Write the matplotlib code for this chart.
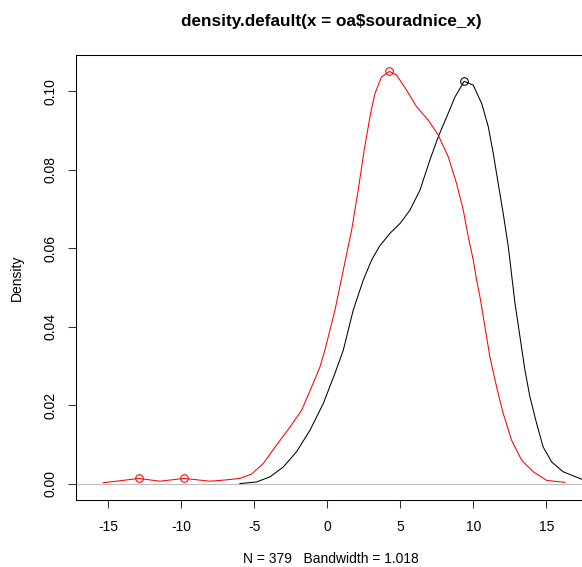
import matplotlib
matplotlib.use('Agg')
import matplotlib.pyplot as plt

# hustota - cerna krivka (souradnice_x)
x_cerna = [-5.98, -4.84, -3.92, -3.01, -2.1, -1.18, -0.27, 0.53, 1.1, 1.78, 2.47, 3.04,
           3.56, 4.29, 4.98, 5.66, 6.35, 7.03, 7.6, 8.18, 8.75, 9.38, 10.0, 10.58,
           11.03, 11.37, 11.71, 12.05, 12.4, 12.86, 13.2, 13.54, 13.88, 14.34, 14.79,
           15.37, 16.16, 17.42, 18.5]
y_cerna = [0.0, 0.0004, 0.0017, 0.0042, 0.0081, 0.0136, 0.0204, 0.0281, 0.034, 0.0442,
           0.0519, 0.057, 0.0604, 0.0638, 0.0663, 0.0697, 0.0748, 0.0825, 0.0884,
           0.0935, 0.0986, 0.1026, 0.1016, 0.0969, 0.091, 0.0842, 0.0765, 0.0689, 0.0604,
           0.0459, 0.0374, 0.0289, 0.0221, 0.0153, 0.0093, 0.0055, 0.003, 0.0011, 0.0005]

# hustota - cervena krivka
x_cervena = [-15.34, -14.2, -12.9, -11.46, -9.8, -8.03, -7.0, -5.98, -5.18, -4.38, -3.47,
             -2.55, -1.75, -1.07, -0.5, -0.16, 0.53, 1.1, 1.67, 2.12, 2.53, 2.97, 3.27,
             3.72, 4.25, 4.75, 5.44, 6.12, 6.92, 7.6, 8.29, 8.86, 9.32, 9.66, 10.0, 10.23,
             10.46, 10.8, 11.14, 11.6, 12.05, 12.63, 13.32, 14.11, 15.03, 16.28]
y_cervena = [0.0002, 0.0007, 0.0013, 0.0006, 0.0013, 0.0006, 0.0009, 0.0013, 0.0024,
             0.0051, 0.0098, 0.0144, 0.0187, 0.0246, 0.0297, 0.034, 0.0442, 0.0544,
             0.0646, 0.0748, 0.085, 0.0944, 0.0995, 0.1037, 0.1051, 0.1042, 0.1003,
             0.0961, 0.0927, 0.0889, 0.0833, 0.0765, 0.0697, 0.0629, 0.057, 0.0519,
             0.0476, 0.04, 0.0323, 0.0246, 0.0179, 0.011, 0.0059, 0.003, 0.0008, 0.0003]

# vrcholy (body)
vrchol_cerna_x = [9.38]
vrchol_cerna_y = [0.1026]
vrchol_cervena_x = [-12.9, -9.8, 4.25]
vrchol_cervena_y = [0.0013, 0.0013, 0.1051]

x_ticks = [-15, -10, -5, 0, 5, 10, 15]
y_ticks = [0.00, 0.02, 0.04, 0.06, 0.08, 0.10]

plt.rcParams['font.family'] = ['Liberation Sans', 'DejaVu Sans']

fig = plt.figure(figsize=(5.82, 5.67), dpi=100)
ax = fig.add_axes([76 / 582, 67 / 567, 510 / 582, 445 / 567])

ax.axhline(0, color='#bebebe', lw=0.8)
ax.plot(x_cerna, y_cerna, color='black', lw=0.75, solid_joinstyle='round')
ax.plot(x_cervena, y_cervena, color='red', lw=0.75, solid_joinstyle='round')
ax.plot(vrchol_cerna_x, vrchol_cerna_y, 'o', mfc='none', mec='black', ms=5.5, mew=0.75)
ax.plot(vrchol_cervena_x, vrchol_cervena_y, 'o', mfc='none', mec='red', ms=5.5, mew=0.75)

ax.set_xlim(-17.2, 17.72)
ax.set_ylim(-0.0042, 0.1093)
ax.set_xticks(x_ticks)
ax.set_xticklabels([str(t) for t in x_ticks])
ax.set_yticks(y_ticks)
ax.set_yticklabels(['%.2f' % t for t in y_ticks], rotation=90, va='center')
ax.tick_params(length=5.6, width=0.75, labelsize=10, pad=8, colors='#333333', labelcolor='black')
ax.tick_params(axis='x', pad=9)
for s in ax.spines.values():
    s.set_linewidth(0.75)

ax.set_title('density.default(x = oa$souradnice_x)', fontsize=12.3, fontweight='bold', pad=21)
ax.set_xlabel('N = 379   Bandwidth = 1.018', fontsize=10, labelpad=13)
ax.set_ylabel('Density', fontsize=10, labelpad=14)

fig.savefig('out.png', dpi=100)
